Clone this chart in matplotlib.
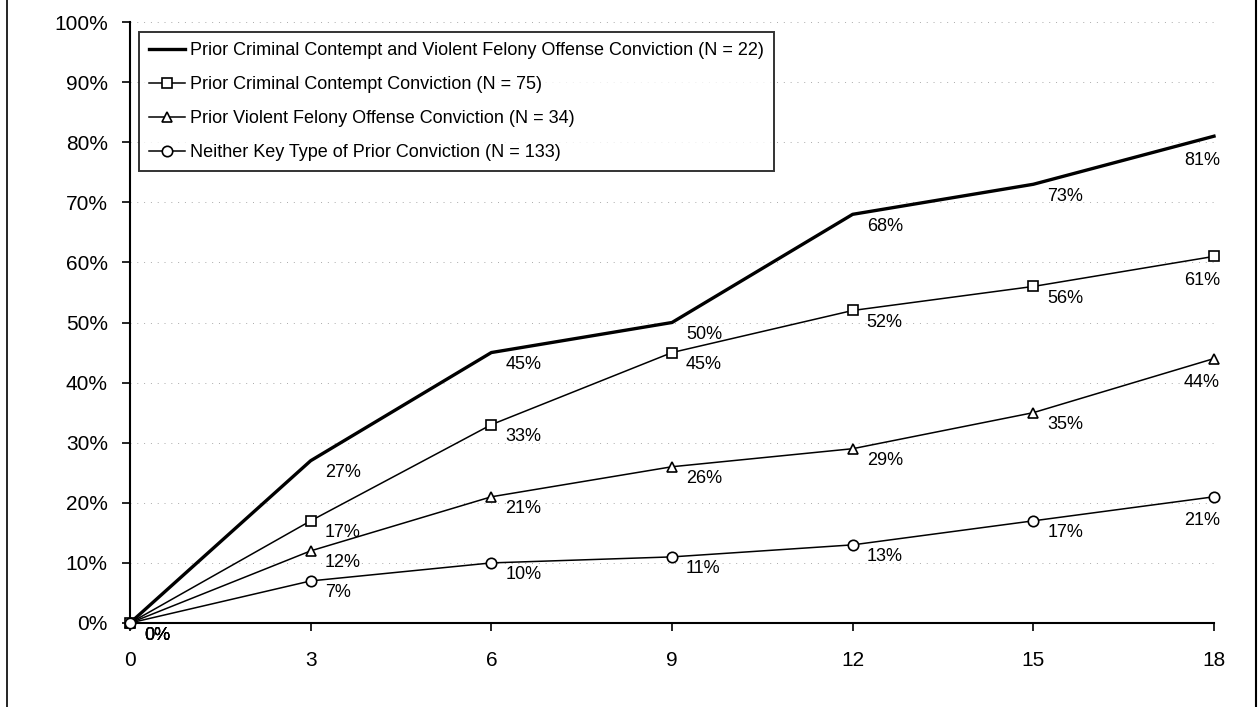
import matplotlib.pyplot as plt
import matplotlib.lines as mlines

plt.rcParams['font.family'] = ['Liberation Sans', 'DejaVu Sans']

# data
months = [0, 3, 6, 9, 12, 15, 18]
both = [0, 27, 45, 50, 68, 73, 81]
contempt = [0, 17, 33, 45, 52, 56, 61]
violent = [0, 12, 21, 26, 29, 35, 44]
neither = [0, 7, 10, 11, 13, 17, 21]
labels = [
    'Prior Criminal Contempt and Violent Felony Offense Conviction (N = 22)',
    'Prior Criminal Contempt Conviction (N = 75)',
    'Prior Violent Felony Offense Conviction (N = 34)',
    'Neither Key Type of Prior Conviction (N = 133)',
]
yticks = list(range(0, 101, 10))

fig = plt.figure(figsize=(12.6, 7.07), dpi=100)
ax = fig.add_axes([130 / 1260, 84 / 707, 1084 / 1260, 601 / 707])

# dotted horizontal grid
for y in yticks[1:]:
    ax.axhline(y, color='#aaaaaa', lw=0.7, ls=(0, (1, 6)), zorder=0)

styles = [
    dict(lw=2.4, marker=None),
    dict(lw=1.1, marker='s', ms=7.5),
    dict(lw=1.1, marker='^', ms=7.5),
    dict(lw=1.1, marker='o', ms=7.5),
]
series = [both, contempt, violent, neither]
for vals, st, lab in zip(series, styles, labels):
    ax.plot(months, vals, color='black', lw=st['lw'], marker=st['marker'],
            ms=st.get('ms', 0), mfc='white', mec='black', mew=1.2,
            label=lab, zorder=3, clip_on=False)
    for x, v in zip(months, vals):
        if x == months[-1]:
            ax.annotate(f'{v}%', (x, v), xytext=(-12, -24), textcoords='offset pixels',
                        ha='center', va='center', fontsize=13)
        else:
            ax.annotate(f'{v}%', (x, v), xytext=(14, -12), textcoords='offset pixels',
                        ha='left', va='center', fontsize=13)

ax.set_xlim(0, 18)
ax.set_ylim(0, 100)
ax.set_xticks(months)
ax.set_yticks(yticks)
ax.set_yticklabels([f'{t}%' for t in yticks])
ax.tick_params(axis='both', labelsize=15, length=6, width=1.2, direction='out')
ax.tick_params(axis='y', pad=10)
ax.tick_params(axis='x', pad=14)
for side in ['top', 'right']:
    ax.spines[side].set_visible(False)
for side in ['left', 'bottom']:
    ax.spines[side].set_linewidth(1.5)

leg = ax.legend(loc='upper left', bbox_to_anchor=(139 / 1260, 1 - 32 / 707),
                bbox_transform=fig.transFigure, frameon=True, fancybox=False,
                fontsize=13, handlelength=2.0, handletextpad=0.3,
                labelspacing=0.95, borderpad=0.55, borderaxespad=0)
leg.get_frame().set_edgecolor('black')
leg.get_frame().set_linewidth(1.4)

# side borders of the page
fig.add_artist(mlines.Line2D([7 / 1260, 7 / 1260], [0, 1], color='black', lw=1.2,
                             transform=fig.transFigure))
fig.add_artist(mlines.Line2D([1256 / 1260, 1256 / 1260], [0, 1], color='black', lw=1.5,
                             transform=fig.transFigure))

fig.savefig('out.png', dpi=100)
